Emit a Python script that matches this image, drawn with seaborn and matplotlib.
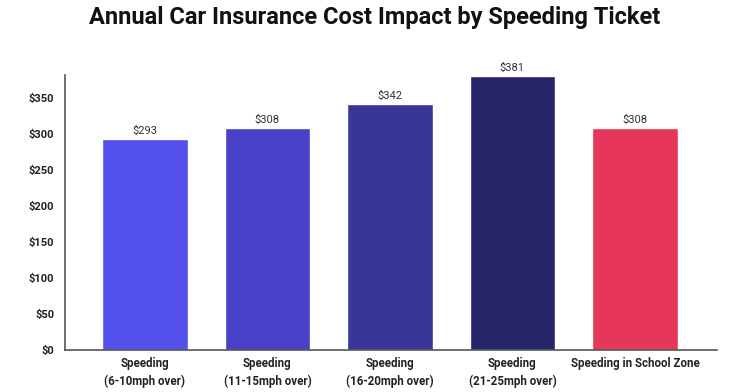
import seaborn as sns
import matplotlib
matplotlib.use('Agg')
import matplotlib.pyplot as plt
import pandas as pd

# chart data
categories = ['Speeding\n(6-10mph over)', 'Speeding\n(11-15mph over)', 'Speeding\n(16-20mph over)',
              'Speeding\n(21-25mph over)', 'Speeding in School Zone']
costs = [293, 308, 342, 381, 308]
bar_colors = ['#5450EE', '#4840C6', '#3A3698', '#27256A', '#E6375A']
yticks = [0, 50, 100, 150, 200, 250, 300, 350]

df = pd.DataFrame({'ticket': categories, 'cost': costs})

sns.set_style('white')
plt.rcParams['font.family'] = ['Roboto', 'DejaVu Sans']

fig = plt.figure(figsize=(7.5, 3.92), dpi=100)
ax = fig.add_axes([0.087, 0.107, 0.869, 0.702])

sns.barplot(data=df, x='ticket', y='cost', hue='ticket', palette=bar_colors,
            legend=False, width=0.7, saturation=1, ax=ax)

for i, v in enumerate(costs):
    ax.text(i, v + 4, '$' + str(v), ha='center', va='bottom', fontsize=8, color='#333333')

ax.set_ylim(0, 382)
ax.set_xlim(-0.65, 4.67)
ax.set_yticks(yticks)
ax.set_yticklabels(['$' + str(t) for t in yticks], fontsize=8, fontweight='bold', color='#222222')
ax.tick_params(axis='y', length=3, color='#999999', pad=5)
ax.tick_params(axis='x', length=0, pad=5, labelsize=8.3)
for lbl in ax.get_xticklabels():
    lbl.set_fontweight('bold')
    lbl.set_color('#222222')
    lbl.set_linespacing(1.45)
ax.set_xlabel('')
ax.set_ylabel('')

sns.despine(ax=ax)
ax.spines['left'].set_color('#555555')
ax.spines['left'].set_linewidth(1.2)
ax.spines['bottom'].set_color('#555555')
ax.spines['bottom'].set_linewidth(1.2)

fig.suptitle('Annual Car Insurance Cost Impact by Speeding Ticket', x=0.5, y=0.985,
             fontsize=17, fontweight='bold', color='#111111')

fig.savefig('out.png', dpi=100, facecolor='white')
